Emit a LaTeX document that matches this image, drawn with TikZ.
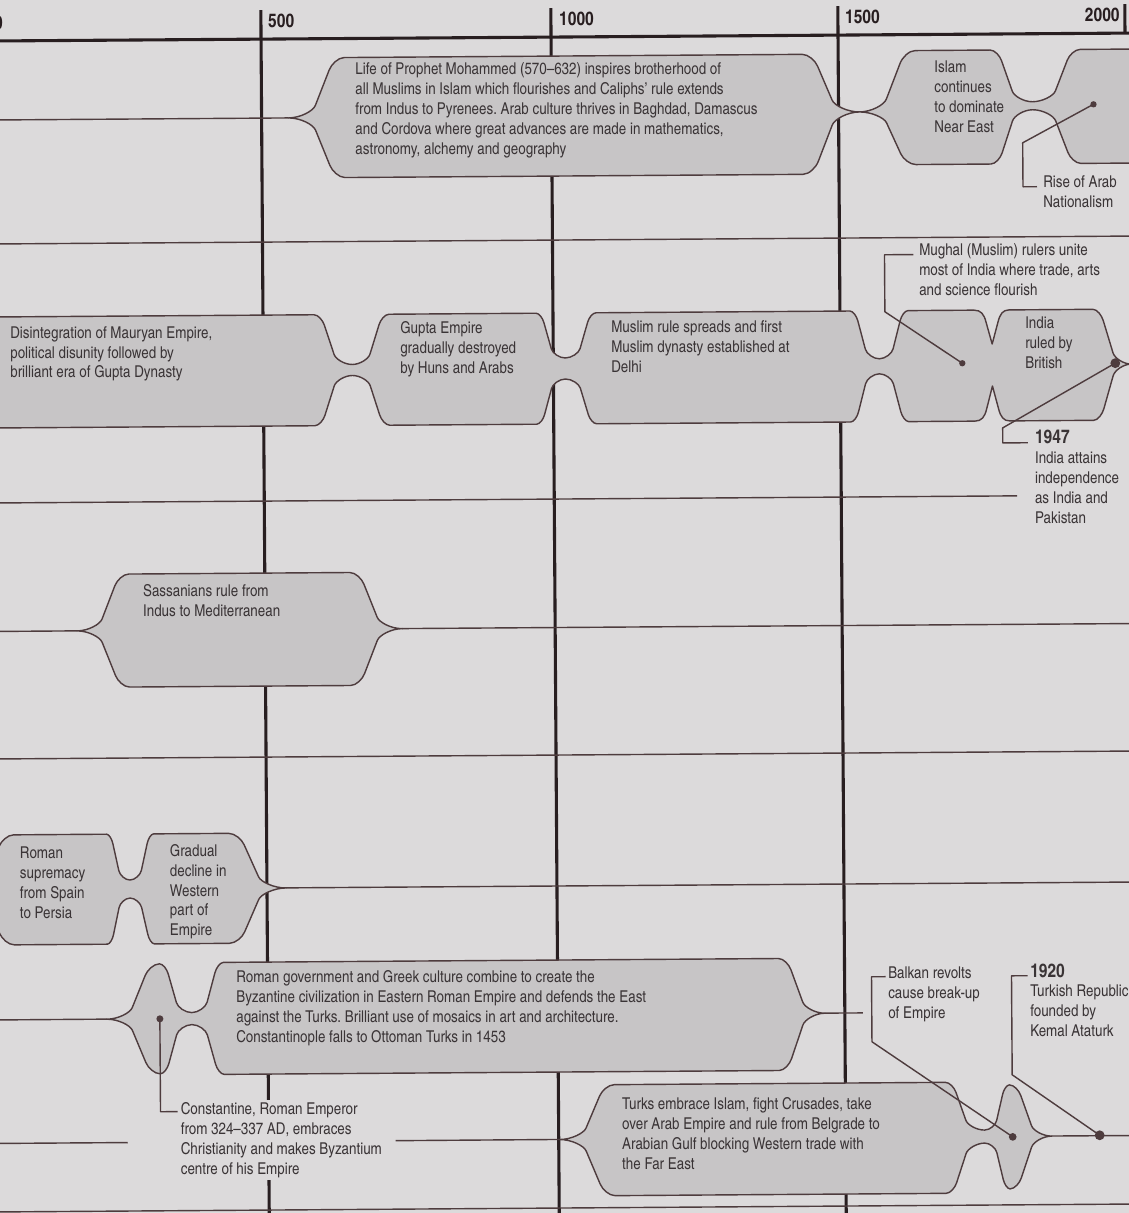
\documentclass[tikz,border=0pt]{standalone}
\usepackage{fontspec}
\setmainfont{texgyreheroscn-regular.otf}[BoldFont=texgyreheroscn-bold.otf]
\usepackage{tikz}
\frenchspacing

\definecolor{bgc}{RGB}{220,218,219}
\definecolor{pillc}{RGB}{199,197,198}
\definecolor{edgec}{RGB}{78,60,62}
\definecolor{axisc}{RGB}{40,30,32}
\definecolor{txtc}{RGB}{58,52,54}

% half of a pill end: from a point on the middle line out to a corner, and back
\newcommand{\edgeout}[4]{.. controls ({#1+0.21*((#3)-(#1))},#2) and ({#1+0.44*((#3)-(#1))},{#2+0.112*((#4)-(#2))}) .. ({#1+0.48*((#3)-(#1))},{#2+0.207*((#4)-(#2))}) -- ({#1+0.73*((#3)-(#1))},{#2+0.793*((#4)-(#2))}) .. controls ({#1+0.77*((#3)-(#1))},{#2+0.888*((#4)-(#2))}) and ({#1+0.89*((#3)-(#1))},#4) .. (#3,#4)}
\newcommand{\edgein}[4]{.. controls ({#1+0.89*((#3)-(#1))},#4) and ({#1+0.77*((#3)-(#1))},{#2+0.888*((#4)-(#2))}) .. ({#1+0.73*((#3)-(#1))},{#2+0.793*((#4)-(#2))}) -- ({#1+0.48*((#3)-(#1))},{#2+0.207*((#4)-(#2))}) .. controls ({#1+0.44*((#3)-(#1))},{#2+0.112*((#4)-(#2))}) and ({#1+0.21*((#3)-(#1))},#2) .. (#1,#2)}

\begin{document}
\begin{tikzpicture}[x=0.025cm, y=-0.025cm, line join=round,
  pill/.style={draw=edgec, fill=pillc, line width=1pt},
  rowline/.style={edgec, line width=1pt},
  yearline/.style={axisc, line width=2.2pt},
  leader/.style={edgec, line width=1pt},
  blob/.style={circle, fill=edgec, inner sep=0pt, minimum size=#1},
  txt/.style={anchor=north west, inner sep=0pt, align=left, text=txtc, font=\fontsize{11.6}{14.2}\selectfont},
  yr/.style={inner sep=0pt, text=axisc, font=\fontsize{13.5}{14}\selectfont\bfseries}]

\clip (0,0) rectangle (1129,1213);
\fill[bgc] (0,0) rectangle (1129,1213);

\begin{scope}[rotate around={0.4:(564,606)}]

% time axis
\draw[yearline] (-20,37) -- (1150,37);
\foreach \xx in {265,555,842}
  \draw[yearline] (\xx,8) -- (\xx,1240);
\draw[yearline] (1129,8) -- (1129,37);
\node[yr, anchor=east] (y0) at (7,19) {0};
\node[yr, anchor=west] (y500) at (272,19) {500};
\node[yr, anchor=west] (y1000) at (563,19) {1000};
\node[yr, anchor=west] (y1500) at (849,19) {1500};
\node[yr, anchor=east] (y2000) at (1124,19) {2000};

% row separators
\foreach \yy in {240,755,1208}
  \draw[rowline] (-20,\yy) -- (1150,\yy);
\draw[rowline] (-20,499) -- (1018,499);

% Arabia
\coordinate (atip) at (292,116);
\draw[rowline] (-20,116) -- (atip);
\draw[pill] (292,116) \edgeout{292}{116}{348}{56} -- (806,56) \edgein{863}{114}{806}{56}
  \edgeout{863}{114}{919}{53} -- (994,53) \edgein{1036}{105}{994}{53} \edgeout{1036}{105}{1084}{53}
  -- (1160,53) -- (1160,167) -- (1084,167) \edgein{1036}{113}{1084}{167} \edgeout{1036}{113}{994}{167}
  -- (919,167) \edgein{863}{114}{919}{167} \edgeout{863}{114}{806}{176} -- (348,176) \edgein{292}{116}{348}{176} -- cycle;

% India
\coordinate (itip) at (1133,368);
\draw[rowline] (itip) -- (1150,368);
\draw[pill] (-20,313) -- (316,313) \edgein{354}{363}{316}{313} \edgeout{354}{363}{391}{313}
  -- (538,313) \edgein{567}{358}{538}{313} \edgeout{567}{358}{598}{313}
  -- (852,313) \edgein{881}{361}{852}{313} \edgeout{881}{361}{910}{313}
  -- (976,313) .. controls (983,313) and (986,317) .. (988,325) -- (994,347) -- (1000,325) .. controls (1002,317) and (1005,313) .. (1011,313)
  -- (1095,313) \edgein{1133}{368}{1095}{313} \edgeout{1133}{368}{1095}{424}
  -- (1011,424) .. controls (1005,424) and (1002,420) .. (1000,412) -- (994,389) -- (988,412) .. controls (986,420) and (983,424) .. (976,424)
  -- (910,424) \edgein{881}{376}{910}{424} \edgeout{881}{376}{852}{424}
  -- (598,424) \edgein{567}{379}{598}{424} \edgeout{567}{379}{538}{424}
  -- (391,424) \edgein{354}{374}{391}{424} \edgeout{354}{374}{316}{424} -- (-20,424) -- cycle;

% Persia
\coordinate (ptipl) at (77,627.5);
\coordinate (ptipr) at (402,627.5);
\draw[rowline] (-20,627.5) -- (ptipl);
\draw[rowline] (ptipr) -- (1150,627.5);
\draw[pill] (77,627.5) \edgeout{77}{627.5}{129}{571} -- (350,571) \edgein{402}{627.5}{350}{571}
  \edgeout{402}{627.5}{350}{684} -- (129,684) \edgein{77}{627.5}{129}{684} -- cycle;

% Rome
\coordinate (rtip) at (284,886);
\draw[rowline] (rtip) -- (1150,886);
\draw[pill] (-42,886) \edgeout{-42}{886}{12}{831} -- (105,831) \edgein{128}{877}{105}{831} \edgeout{128}{877}{152}{831}
  -- (227,831) \edgein{284}{886}{227}{831} \edgeout{284}{886}{227}{941}
  -- (152,941) \edgein{128}{895}{152}{941} \edgeout{128}{895}{105}{941} -- (12,941) \edgein{-42}{886}{12}{941} -- cycle;

% Byzantium
\coordinate (btipl) at (104,1016);
\coordinate (btipr) at (822,1015);
\draw[rowline] (-20,1016) -- (btipl);
\draw[rowline] (btipr) -- (860,1015);
\draw[pill] (104,1016) \edgeout{104}{1016}{157}{961} \edgein{189}{1010}{157}{961} \edgeout{189}{1010}{221}{960}
  -- (776,960) \edgein{822}{1015}{776}{960} \edgeout{822}{1015}{776}{1072}
  -- (221,1072) \edgein{189}{1022}{221}{1072} \edgeout{189}{1022}{157}{1071} \edgein{104}{1016}{157}{1071} -- cycle;

% Ottoman Turks
\coordinate (ttipl) at (556,1139.5);
\coordinate (ttipr) at (1048,1139.5);
\draw[rowline] (-20,1139.5) -- (124,1139.5);
\draw[rowline] (392,1139.5) -- (ttipl);
\draw[rowline] (ttipr) -- (1150,1139.5);
\draw[pill] (556,1139.5) \edgeout{556}{1139.5}{611}{1085} -- (942,1085) \edgein{981}{1133}{942}{1085}
  \edgeout{981}{1133}{1006}{1088} \edgein{1048}{1139.5}{1006}{1088} \edgeout{1048}{1139.5}{1006}{1192}
  \edgein{981}{1146}{1006}{1192} \edgeout{981}{1146}{942}{1196} -- (611,1196) \edgein{556}{1139.5}{611}{1196} -- cycle;

% dots and leaders
\node[blob=4.5pt] (arabdot) at (1097,108) {};
\node[blob=4.5pt] (mughaldot) at (964,366) {};
\node[blob=7pt] (indepdot) at (1117,367) {};
\node[blob=5pt] (constdot) at (157,1016) {};
\node[blob=5.5pt] (balkandot) at (1009,1140) {};
\node[blob=7pt] (ataturkdot) at (1096,1139) {};
\coordinate (arabknee) at (1026,146);
\coordinate (arabend) at (1040,190);
\coordinate (mughalknee) at (887,314);
\coordinate (mughalend) at (916,257);
\coordinate (indepknee) at (1004,431);
\coordinate (independ) at (1029,446);
\coordinate (constend) at (174,1109);
\coordinate (balkanknee) at (869,1044);
\coordinate (balkanend) at (883,979);
\coordinate (ataturkknee) at (1009,1078);
\coordinate (ataturkend) at (1025,979);
\draw[leader] (arabdot.center) -- (arabknee) |- (arabend);
\draw[leader] (mughaldot.center) -- (mughalknee) |- (mughalend);
\draw[leader] (indepdot.center) -- (indepknee) |- (independ);
\draw[leader] (constdot.center) |- (constend);
\draw[leader] (balkandot.center) -- (balkanknee) |- (balkanend);
\draw[leader] (ataturkdot.center) -- (ataturkknee) |- (ataturkend);

% texts
\node[txt] (prophet) at (359,60.5) {Life of Prophet Mohammed (570--632) inspires brotherhood of\\all Muslims in Islam which flourishes and Caliphs' rule extends\\from Indus to Pyrenees. Arab culture thrives in Baghdad, Damascus\\and Cordova where great advances are made in mathematics,\\astronomy, alchemy and geography};
\node[txt] (islam) at (938,63.5) {Islam\\continues\\to dominate\\Near East};
\node[txt] (arabism) at (1046,178.5) {Rise of Arab\\Nationalism};
\node[txt] (mughal) at (921.5,245.5) {Mughal (Muslim) rulers unite\\most of India where trade, arts\\and science flourish};
\node[txt] (maurya) at (12,322) {Disintegration of Mauryan Empire,\\political disunity followed by\\brilliant era of Gupta Dynasty};
\node[txt] (gupta) at (402,320) {Gupta Empire\\gradually destroyed\\by Huns and Arabs};
\node[txt] (delhi) at (613,321) {Muslim rule spreads and first\\Muslim dynasty established at\\Delhi};
\node[txt] (raj) at (1027,320) {India\\ruled by\\British};
\node[txt] (indep) at (1036,433) {{\bfseries\fontsize{13.5}{14.2}\selectfont 1947}\\India attains\\independence\\as India and\\Pakistan};
\node[txt] (sassan) at (143,581) {Sassanians rule from\\Indus to Mediterranean};
\node[txt] (rome) at (18,843) {Roman\\supremacy\\from Spain\\to Persia};
\node[txt] (decline) at (168,841) {Gradual\\decline in\\Western\\part of\\Empire};
\node[txt] (byzant) at (233.5,968) {Roman government and Greek culture combine to create the\\Byzantine civilization in Eastern Roman Empire and defends the East\\against the Turks. Brilliant use of mosaics in art and architecture.\\Constantinople falls to Ottoman Turks in 1453};
\node[txt, fill=bgc, inner sep=1.5pt] (constantine) at (175,1097.5) {Constantine, Roman Emperor\\from 324--337 AD, embraces\\Christianity and makes Byzantium\\centre of his Empire};
\node[txt] (turks) at (618.5,1097.5) {Turks embrace Islam, fight Crusades, take\\over Arab Empire and rule from Belgrade to\\Arabian Gulf blocking Western trade with\\the Far East};
\node[txt] (balkan) at (885.5,968.5) {Balkan revolts\\cause break-up\\of Empire};
\node[txt] (ataturk) at (1027.5,966.5) {{\bfseries\fontsize{13.5}{14.2}\selectfont 1920}\\Turkish Republic\\founded by\\Kemal Ataturk};

\end{scope}
\end{tikzpicture}
\end{document}
